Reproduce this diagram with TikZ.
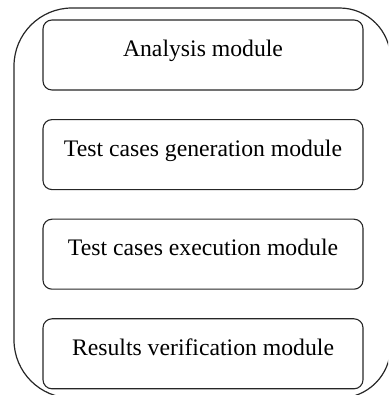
\documentclass[tikz,border=0pt]{standalone}
\usepackage{fontspec}
\setmainfont{Liberation Serif}
\usetikzlibrary{positioning}

\begin{document}
\begin{tikzpicture}[x=1pt, y=1pt, node distance=28.5pt]
		\tikzset{
			module/.style={draw=black!85, line width=1.1pt, rounded corners=9pt, minimum width=320pt, minimum height=70pt, align=center, inner sep=0pt, text height=14pt, text depth=11pt, font=\fontsize{23.7}{28}\selectfont},
			frame/.style={draw=black!85, line width=1.2pt}
		}
		\clip (0,0) rectangle (388,395);
		\draw[frame] (14,200) [rounded corners=58pt] |- (200,387) [rounded corners=51pt] -| (390.5,200) |- (200,-3) [rounded corners=58pt] -| (14,200) -- cycle;
		
		\node[module] (m1) at (203,340) {Analysis module};
		\node[module, below=of m1] (m2) {Test cases generation module};
		\node[module, below=of m2] (m3) {Test cases execution module};
		\node[module, below=of m3] (m4) {Results verification module};
	\end{tikzpicture}
\end{document}
